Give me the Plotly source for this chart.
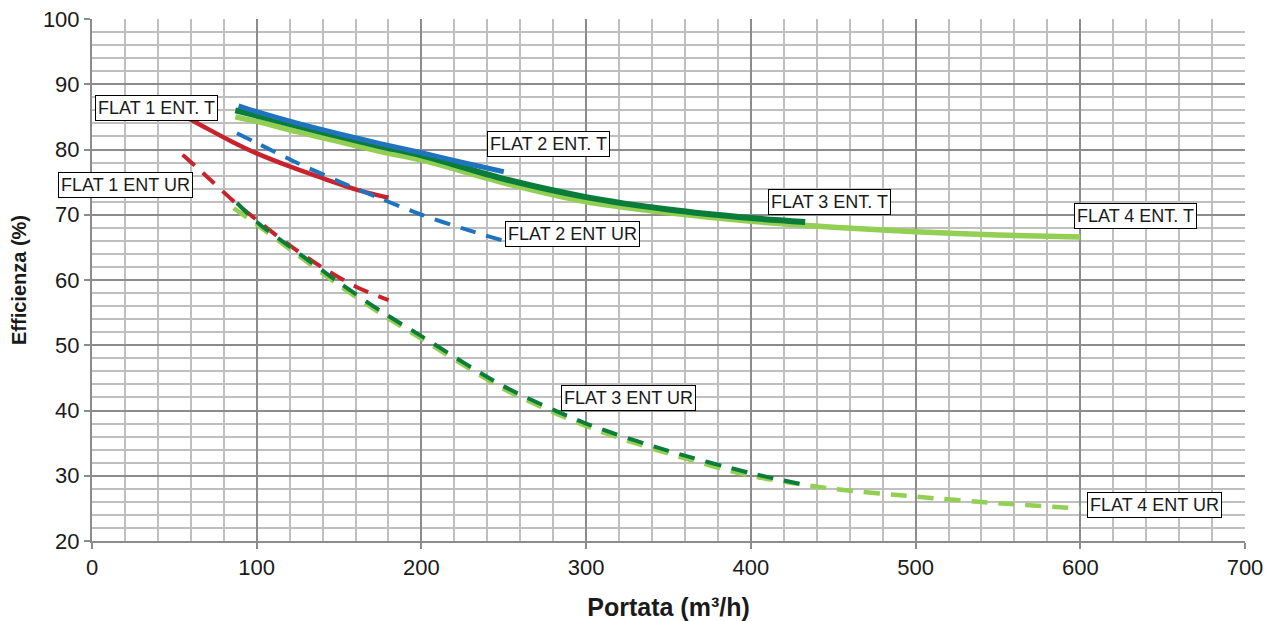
import plotly.graph_objects as go

# ---- data ----
f1t_x = [55, 70, 85, 100, 120, 140, 160, 180]
f1t_y = [85.3, 83.2, 81.2, 79.4, 77.4, 75.6, 73.9, 72.6]

f1ur_x = [55, 70, 85, 100, 120, 140, 160, 180]
f1ur_y = [79.2, 75.8, 72.3, 69.2, 65.3, 61.9, 59.0, 56.9]

f2t_x = [89, 100, 125, 150, 175, 200, 225, 250]
f2t_y = [86.7, 85.8, 84.0, 82.4, 80.9, 79.5, 78.0, 76.6]

f2ur_x = [88, 100, 125, 150, 175, 200, 225, 250]
f2ur_y = [82.5, 81.0, 77.9, 75.1, 72.5, 70.0, 67.9, 66.0]

f3t_x = [87, 100, 125, 150, 175, 200, 250, 300, 350, 400, 433]
f3t_y = [86.0, 85.2, 83.6, 82.0, 80.5, 79.1, 75.5, 72.7, 70.8, 69.5, 68.9]

f3ur_x = [88, 100, 125, 150, 175, 200, 250, 300, 350, 400, 433]
f3ur_y = [71.8, 68.9, 64.2, 59.6, 55.3, 51.4, 43.7, 38.0, 33.8, 30.4, 28.6]

f4t_x = [87, 100, 125, 150, 175, 200, 250, 300, 350, 400, 450, 500, 550, 600]
f4t_y = [85.0, 84.3, 82.7, 81.2, 79.7, 78.4, 74.9, 72.0, 70.3, 69.0, 68.1, 67.4, 66.9, 66.6]

f4ur_x = [86, 100, 125, 150, 175, 200, 250, 300, 350, 400, 450, 500, 550, 600]
f4ur_y = [71.0, 68.5, 63.8, 59.2, 54.9, 51.0, 43.3, 37.6, 33.4, 30.0, 28.0, 26.8, 25.8, 25.0]

labels = ["FLAT 1 ENT. T", "FLAT 1 ENT UR", "FLAT 2 ENT. T", "FLAT 2 ENT UR",
          "FLAT 3 ENT. T", "FLAT 4 ENT. T", "FLAT 3 ENT UR", "FLAT 4 ENT UR"]
label_x = [38.9, 20.6, 276.9, 292.0, 448.0, 633.7, 325.9, 644.8]
label_y = [86.4, 74.5, 80.8, 67.0, 72.0, 69.8, 41.9, 25.5]

RED = "#C8232C"
BLUE = "#1F74BD"
DGREEN = "#0B7D3B"
LGREEN = "#92CF52"
DASH = "16px,11px"
FONT = "Liberation Sans, Arial, sans-serif"

fig = go.Figure()

def add(x, y, color, width, dash=None):
    fig.add_trace(go.Scatter(
        x=x, y=y, mode="lines",
        line=dict(color=color, width=width, shape="spline", smoothing=0.8,
                  dash=dash if dash else "solid"),
        showlegend=False, hoverinfo="skip"))

add(f1t_x, f1t_y, RED, 4.5)
add(f1ur_x, f1ur_y, RED, 4, DASH)
add(f4ur_x, f4ur_y, LGREEN, 4.5, DASH)
add(f3ur_x, f3ur_y, DGREEN, 4, DASH)
add(f4t_x, f4t_y, LGREEN, 5.5)
add(f3t_x, f3t_y, DGREEN, 6)
add(f2ur_x, f2ur_y, BLUE, 4, DASH)
add(f2t_x, f2t_y, BLUE, 5)

for t, ax, ay in zip(labels, label_x, label_y):
    fig.add_annotation(x=ax, y=ay, xref="x", yref="y", text=t, showarrow=False,
                       font=dict(family=FONT, size=18, color="#1a1a1a"),
                       bgcolor="white", bordercolor="#000000", borderwidth=1,
                       borderpad=2)

MAJ = "#8C8C8C"
MIN = "#BFBFBF"

fig.update_layout(
    width=1268, height=613,
    margin=dict(l=84, r=31, t=11, b=80),
    paper_bgcolor="white", plot_bgcolor="white",
    font=dict(family=FONT, color="#1a1a1a"),
    xaxis=dict(
        range=[0, 700], dtick=100, tick0=0,
        showgrid=True, gridcolor=MAJ, gridwidth=2,
        minor=dict(dtick=20, showgrid=True, gridcolor=MIN, gridwidth=2),
        showline=True, linecolor=MAJ, linewidth=2,
        ticks="outside", ticklen=6, tickwidth=2, tickcolor=MAJ,
        tickfont=dict(size=22, family=FONT, color="#1a1a1a"),
        ticklabeloverflow="allow",
        zeroline=False,
        title=dict(text="<b>Portata (m³/h)</b>", font=dict(size=25, family=FONT),
                   standoff=20),
        automargin=False,
    ),
    yaxis=dict(
        range=[20, 100], dtick=10, tick0=0,
        showgrid=True, gridcolor=MAJ, gridwidth=2,
        minor=dict(dtick=2, showgrid=True, gridcolor=MIN, gridwidth=2),
        showline=True, linecolor=MAJ, linewidth=2,
        ticks="outside", ticklen=6, tickwidth=2, tickcolor=MAJ,
        tickfont=dict(size=22, family=FONT, color="#1a1a1a"),
        ticklabeloverflow="allow",
        zeroline=False,
        title=dict(text="<b>Efficienza (%)</b>", font=dict(size=20, family=FONT),
                   standoff=26),
        automargin=False,
    ),
)

fig.write_html("out.html")
